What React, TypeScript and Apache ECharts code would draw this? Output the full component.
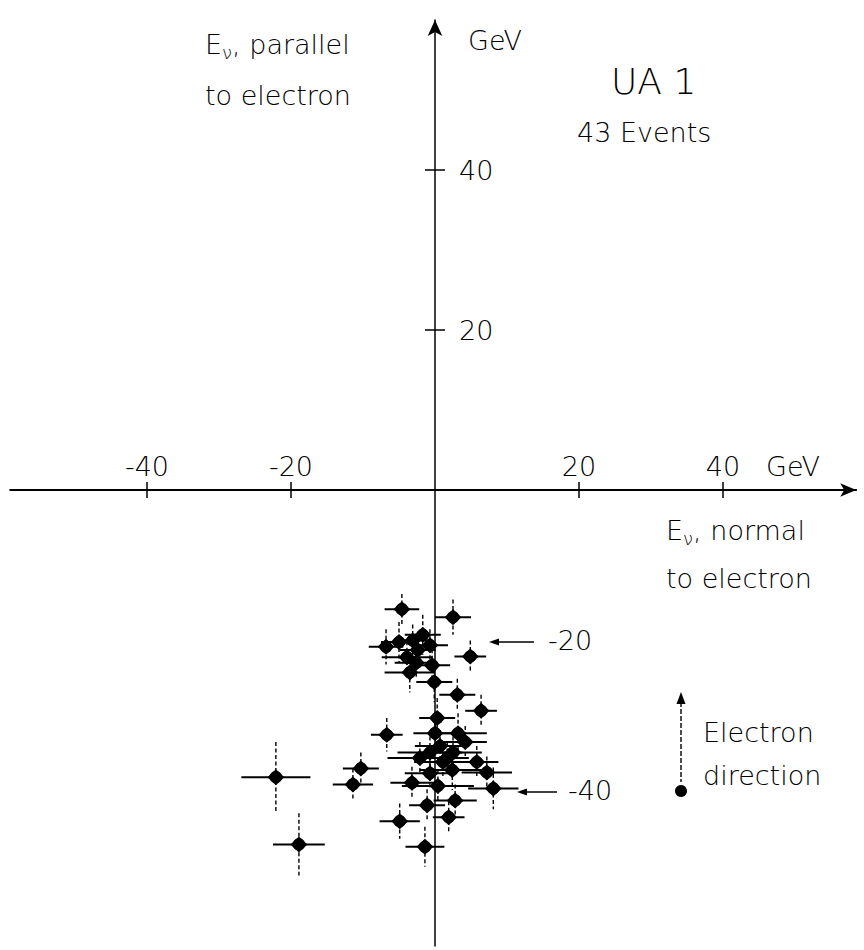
import React, { useEffect, useRef } from 'react';
import * as echarts from 'echarts';

// Event values (GeV): neutrino energy normal (x) and parallel (y) to the electron
const xValues = [
  -4.6, 2.5, -6.8, -5.0, -1.7, -0.7, 4.9, -3.9, -2.6, -3.5, -0.4, -0.1, -2.4, -3.1,
  3.1, 6.4, 0.3, 0.0, 3.2, -6.7,
  0.7, -0.7, 1.7, 2.5, -2.1, 4.2, 5.8, 2.4, 7.2, -0.7, -3.2, 0.4, 8.1, 2.8, -1.1, -4.9, 1.9, -1.4, 1.1,
  -22.1, -18.9, -10.3, -11.4,
];
const yValues = [
  -14.9, -15.9, -19.6, -19.0, -18.1, -19.4, -20.8, -20.9, -21.6, -22.8, -21.9, -24.0, -20.0, -18.8,
  -25.6, -27.6, -28.5, -30.4, -30.4, -30.6,
  -32.0, -32.8, -33.5, -32.8, -33.5, -31.5, -34.0, -35.0, -35.3, -35.4, -36.6, -37.0, -37.3, -38.8, -39.4, -41.4, -40.9, -44.6, -34.0,
  -35.9, -44.3, -34.8, -36.8,
];
const xErrors = [
  2.4, 2.5, 2.4, 2.5, 2.5, 2.5, 2.2, 3.5, 3.0, 3.5, 2.5, 2.5, 2.5, 2.5,
  2.5, 2.2, 2.5, 3.0, 4.0, 2.2,
  3.5, 4.5, 3.0, 4.0, 4.5, 3.0, 3.0, 4.5, 3.5, 3.5, 3.0, 5.0, 3.5, 3.0, 2.5, 2.8, 2.2, 2.7, 4.0,
  4.8, 3.6, 2.5, 2.8,
];
const yErrors = [
  1.9, 2.2, 2.2, 2.5, 2.5, 2.0, 2.0, 2.0, 2.0, 2.5, 2.0, 2.5, 2.0, 2.0,
  2.0, 2.0, 2.5, 2.0, 2.5, 2.1,
  2.0, 2.0, 2.0, 2.0, 2.0, 2.0, 2.0, 2.5, 2.0, 2.0, 2.0, 2.0, 2.6, 2.0, 2.0, 2.2, 2.0, 2.5, 2.0,
  4.4, 3.9, 2.0, 2.0,
];
const xTickValues = [-40, -20, 20, 40];
const yTickValues = [20, 40];

const FONT = 'DejaVu Sans';
const FW = 300;
const FS = 27;

// axis ranges and grid placement
const X_MIN = -59;
const X_MAX = 58.5;
const Y_MIN = -57;
const Y_MAX = 58.75;
const W = 864;
const H = 950;
const G_LEFT = 10.2;
const G_RIGHT = 7.8;
const G_TOP = 20;
const G_BOTTOM = 4;

export default function App() {
  const ref = useRef<HTMLDivElement>(null);

  useEffect(() => {
    const chart = echarts.init(ref.current!, null, { renderer: 'svg' });
    const data = xValues.map((x, i) => [x, yValues[i], xErrors[i], yErrors[i]]);

    // pixel position of the zero lines (used to shift the secondary axes onto the origin)
    const gw = W - G_LEFT - G_RIGHT;
    const gh = H - G_TOP - G_BOTTOM;
    const zeroX = G_LEFT + ((0 - X_MIN) / (X_MAX - X_MIN)) * gw;
    const zeroY = G_TOP + ((Y_MAX - 0) / (Y_MAX - Y_MIN)) * gh;
    const topOffset = G_TOP - zeroY;
    const rightOffset = zeroX - (W - G_RIGHT);

    const txt = (text: string, x: number, y: number, size = FS, extra: any = {}) => ({
      type: 'text',
      x,
      y,
      silent: true,
      style: {
        text,
        fill: '#000',
        fontFamily: FONT,
        fontSize: size,
        fontWeight: FW,
        align: 'left',
        verticalAlign: 'middle',
        ...extra,
      },
    });
    const richSub = {
      rich: {
        n: { fontFamily: FONT, fontSize: FS, fontWeight: FW, lineHeight: 34, fill: '#000' },
        s: { fontFamily: FONT, fontSize: 18, fontWeight: FW, lineHeight: 16, verticalAlign: 'bottom', fill: '#000' },
      },
    };
    const labelStyle = { color: '#000', fontFamily: FONT, fontSize: FS, fontWeight: FW };
    const tickStyle = { color: '#000', width: 1.5 };

    const option: any = {
      animation: false,
      backgroundColor: '#fff',
      grid: {
        left: G_LEFT,
        right: G_RIGHT,
        top: G_TOP,
        bottom: G_BOTTOM,
        containLabel: false,
        outerBoundsMode: 'none',
      },
      xAxis: [
        {
          type: 'value',
          min: X_MIN,
          max: X_MAX,
          position: 'bottom',
          axisLine: {
            onZero: true,
            onZeroAxisIndex: 0,
            symbol: ['none', 'arrow'],
            symbolSize: [10, 16],
            lineStyle: { color: '#000', width: 2 },
          },
          axisTick: { show: true, customValues: xTickValues, length: 8, lineStyle: tickStyle },
          axisLabel: { show: false },
          splitLine: { show: false },
        },
        {
          type: 'value',
          min: X_MIN,
          max: X_MAX,
          position: 'top',
          offset: topOffset,
          axisLine: { onZero: false, show: false },
          axisTick: { show: true, customValues: xTickValues, length: 8, lineStyle: tickStyle },
          axisLabel: { show: true, customValues: xTickValues, margin: 10, ...labelStyle },
          splitLine: { show: false },
        },
      ],
      yAxis: [
        {
          type: 'value',
          min: Y_MIN,
          max: Y_MAX,
          position: 'left',
          axisLine: {
            onZero: true,
            onZeroAxisIndex: 0,
            symbol: ['none', 'arrow'],
            symbolSize: [11, 16],
            lineStyle: { color: '#000', width: 1.5 },
          },
          axisTick: { show: true, customValues: yTickValues, length: 10, lineStyle: tickStyle },
          axisLabel: { show: false },
          splitLine: { show: false },
        },
        {
          type: 'value',
          min: Y_MIN,
          max: Y_MAX,
          position: 'right',
          offset: rightOffset,
          axisLine: { onZero: false, show: false },
          axisTick: { show: true, customValues: yTickValues, length: 10, lineStyle: tickStyle },
          axisLabel: { show: true, customValues: yTickValues, margin: 24, ...labelStyle },
          splitLine: { show: false },
        },
      ],
      series: [
        {
          type: 'custom',
          xAxisIndex: 0,
          yAxisIndex: 0,
          clip: false,
          z: 5,
          data,
          encode: { x: 0, y: 1 },
          renderItem: (params: any, api: any) => {
            const x = api.value(0);
            const y = api.value(1);
            const ex = api.value(2);
            const ey = api.value(3);
            const c = api.coord([x, y]);
            const l = api.coord([x - ex, y]);
            const r = api.coord([x + ex, y]);
            const t = api.coord([x, y + ey]);
            const b = api.coord([x, y - ey]);
            return {
              type: 'group',
              children: [
                {
                  type: 'line',
                  shape: { x1: l[0], y1: c[1], x2: r[0], y2: c[1] },
                  style: { stroke: '#000', lineWidth: 2 },
                },
                {
                  type: 'line',
                  shape: { x1: c[0], y1: t[1], x2: c[0], y2: b[1] },
                  style: { stroke: '#000', lineWidth: 1.4, lineDash: [4, 2.5] },
                },
                {
                  type: 'polygon',
                  shape: {
                    points: [
                      [c[0] - 8.5, c[1]],
                      [c[0], c[1] - 8],
                      [c[0] + 8.5, c[1]],
                      [c[0], c[1] + 8],
                    ],
                  },
                  style: { fill: '#000' },
                },
                { type: 'circle', shape: { cx: c[0], cy: c[1], r: 6.2 }, style: { fill: '#000' } },
              ],
            };
          },
        },
      ],
      graphic: [
        txt('{n|E}{s|ν}{n|, parallel}', 205, 44, FS, richSub),
        txt('to electron', 205, 95),
        txt('GeV', 468, 40),
        txt('UA 1', 611, 81, 36),
        txt('43 Events', 577, 132),
        txt('GeV', 766, 466),
        txt('{n|E}{s|ν}{n|, normal}', 666, 530, FS, richSub),
        txt('to electron', 666, 578),
        txt('-20', 548, 640),
        txt('-40', 568, 790),
        txt('Electron', 703, 732),
        txt('direction', 703, 775),
        // arrows pointing to the -20 and -40 levels
        { type: 'line', shape: { x1: 496, y1: 642, x2: 534, y2: 642 }, style: { stroke: '#000', lineWidth: 1.5 } },
        { type: 'polygon', shape: { points: [[489, 642], [499, 638.5], [499, 645.5]] }, style: { fill: '#000' } },
        { type: 'line', shape: { x1: 524, y1: 792, x2: 557, y2: 792 }, style: { stroke: '#000', lineWidth: 1.5 } },
        { type: 'polygon', shape: { points: [[517, 792], [527, 788.5], [527, 795.5]] }, style: { fill: '#000' } },
        // electron direction marker
        { type: 'line', shape: { x1: 681, y1: 702, x2: 681, y2: 782 }, style: { stroke: '#000', lineWidth: 1.4, lineDash: [5, 2] } },
        { type: 'polygon', shape: { points: [[681, 692], [676.5, 704], [685.5, 704]] }, style: { fill: '#000' } },
        { type: 'circle', shape: { cx: 681, cy: 791, r: 6 }, style: { fill: '#000' } },
      ],
    };

    chart.setOption(option);
    return () => chart.dispose();
  }, []);

  return (
    <div
      ref={ref}
      style={{ position: 'absolute', left: 0, top: 0, width: W, height: H, background: '#fff' }}
    />
  );
}
